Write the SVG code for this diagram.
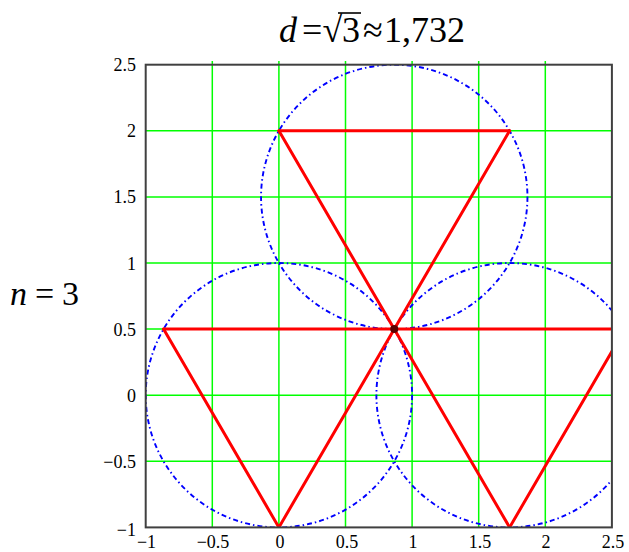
<svg xmlns="http://www.w3.org/2000/svg" width="629" height="552" viewBox="0 0 629 552">
<style>
.grid{stroke:#00ff00;stroke-width:1.5;fill:none}
.frame{stroke:#404040;stroke-width:2;fill:none}
.circ{stroke:#0000ff;stroke-width:1.9;fill:none;stroke-dasharray:5 3 1.5 3}
.red{stroke:#ff0000;stroke-width:3;fill:none;stroke-linecap:round}
.tk{font-family:'Liberation Serif',Tinos,'DejaVu Serif',serif;font-size:18px;fill:#000}
.yl{text-anchor:end}
.xl{text-anchor:middle}
.big{font-family:'Liberation Serif',Tinos,'DejaVu Serif',serif;font-size:36px;fill:#000}
.it{font-style:italic}
</style>
<defs>
<clipPath id="plotclip"><rect x="145.7" y="64.7" width="466.2" height="462.7"/></clipPath>
</defs>
<rect width="629" height="552" fill="#fff"/>
<g id="title">
<text class="big it" x="279" y="42">d</text>
<text class="big" x="302" y="42">=</text>
<text class="big" x="322.5" y="42">√</text>
<line x1="338" y1="13" x2="361" y2="13" stroke="#000" stroke-width="1.6"/>
<text class="big" x="342" y="42">3</text>
<text class="big" x="363" y="42">≈</text>
<text class="big" x="384" y="42">1,732</text>
</g>
<g id="nlabel">
<text class="big it" x="10" y="305" style="font-size:34px">n</text>
<text class="big" x="35" y="305" style="font-size:34px">=</text>
<text class="big" x="62" y="305" style="font-size:34px">3</text>
</g>
<g id="grid">
<line class="grid" x1="212.3" y1="61" x2="212.3" y2="527.4"/>
<line class="grid" x1="278.9" y1="61" x2="278.9" y2="527.4"/>
<line class="grid" x1="345.5" y1="61" x2="345.5" y2="527.4"/>
<line class="grid" x1="412.1" y1="61" x2="412.1" y2="527.4"/>
<line class="grid" x1="478.7" y1="61" x2="478.7" y2="527.4"/>
<line class="grid" x1="545.3" y1="61" x2="545.3" y2="527.4"/>
<line class="grid" x1="145.7" y1="130.8" x2="611.9" y2="130.8"/>
<line class="grid" x1="145.7" y1="196.9" x2="611.9" y2="196.9"/>
<line class="grid" x1="145.7" y1="263" x2="611.9" y2="263"/>
<line class="grid" x1="145.7" y1="329.1" x2="611.9" y2="329.1"/>
<line class="grid" x1="145.7" y1="395.2" x2="611.9" y2="395.2"/>
<line class="grid" x1="145.7" y1="461.3" x2="611.9" y2="461.3"/>
</g>
<g id="circles" clip-path="url(#plotclip)">
<ellipse id="circle-top" class="circ" cx="394.25" cy="196.9" rx="133.2" ry="132.2"/>
<ellipse id="circle-left" class="circ" cx="278.9" cy="395.2" rx="133.2" ry="132.2"/>
<ellipse id="circle-right" class="circ" cx="509.6" cy="395.2" rx="133.2" ry="132.2"/>
</g>
<g id="connectors" clip-path="url(#plotclip)">
<line class="red" x1="278.9" y1="130.8" x2="509.6" y2="130.8"/>
<line class="red" x1="278.9" y1="130.8" x2="509.6" y2="527.4"/>
<line class="red" x1="509.6" y1="130.8" x2="278.9" y2="527.4"/>
<line class="red" x1="163.55" y1="329.1" x2="615" y2="329.1"/>
<line class="red" x1="163.55" y1="329.1" x2="278.9" y2="527.4"/>
<line class="red" x1="509.6" y1="527.4" x2="615" y2="346.2"/>
</g>
<g id="center">
<circle cx="394.25" cy="329.1" r="4" fill="#5a0000"/>
</g>
<rect class="frame" x="145.7" y="64.7" width="466.2" height="462.7"/>
<g id="yticks">
<text class="tk yl" x="136" y="71.2">2.5</text>
<text class="tk yl" x="136" y="137.3">2</text>
<text class="tk yl" x="136" y="203.4">1.5</text>
<text class="tk yl" x="136" y="269.5">1</text>
<text class="tk yl" x="136" y="335.6">0.5</text>
<text class="tk yl" x="136" y="401.7">0</text>
<text class="tk yl" x="136" y="467.8">−0.5</text>
<text class="tk yl" x="136" y="536">−1</text>
</g>
<g id="xticks">
<text class="tk xl" x="146.5" y="548">−1</text>
<text class="tk xl" x="213" y="548">−0.5</text>
<text class="tk xl" x="280" y="548">0</text>
<text class="tk xl" x="347" y="548">0.5</text>
<text class="tk xl" x="413" y="548">1</text>
<text class="tk xl" x="480" y="548">1.5</text>
<text class="tk xl" x="546" y="548">2</text>
<text class="tk xl" x="613" y="548">2.5</text>
</g>
</svg>
